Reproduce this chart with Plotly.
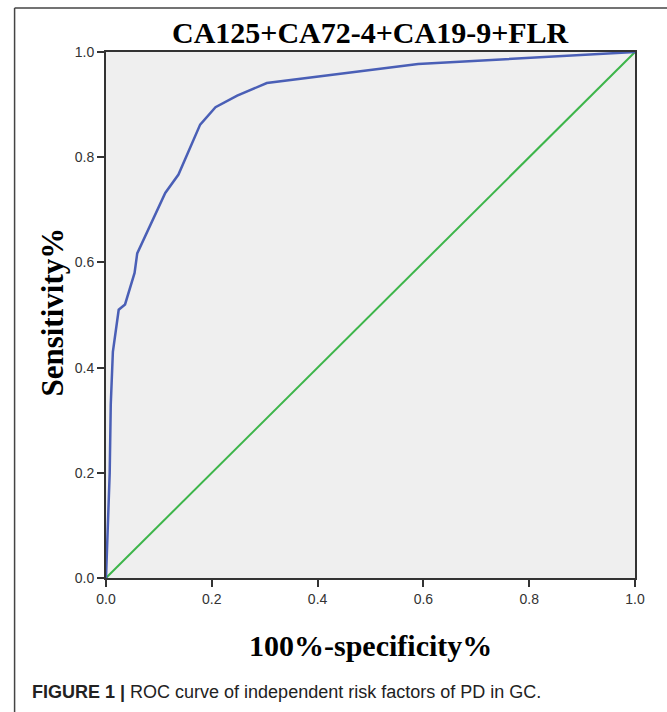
import plotly.graph_objects as go

# ROC data (false positive rate, true positive rate)
fpr = [0.0, 0.004, 0.007, 0.009, 0.013, 0.024, 0.036, 0.054, 0.059, 0.112, 0.137, 0.178, 0.207, 0.248, 0.304, 0.59, 1.0]
tpr = [0.0, 0.10, 0.20, 0.33, 0.43, 0.51, 0.52, 0.58, 0.617, 0.732, 0.767, 0.862, 0.895, 0.917, 0.941, 0.977, 1.0]
ref_x = [0.0, 1.0]
ref_y = [0.0, 1.0]
tick_vals = [0.0, 0.2, 0.4, 0.6, 0.8, 1.0]
tick_text = ["0.0", "0.2", "0.4", "0.6", "0.8", "1.0"]

W, H = 667, 712
L, R, T, B = 105.5, 32, 52, 134
pw = W - L - R
ph = H - T - B

def px(x):
    return (x - L) / pw

def py(y):
    return (H - B - y) / ph

fig = go.Figure()
fig.add_trace(go.Scatter(x=ref_x, y=ref_y, mode="lines",
                         line=dict(color="#3db54a", width=2), showlegend=False, hoverinfo="skip"))
fig.add_trace(go.Scatter(x=fpr, y=tpr, mode="lines",
                         line=dict(color="#4a5fb6", width=2.5), showlegend=False))

axis_common = dict(
    range=[0, 1], tickvals=tick_vals, ticktext=tick_text,
    showgrid=False, zeroline=False, showline=True, linecolor="#333333", linewidth=2,
    ticks="outside", ticklen=7, tickwidth=2, tickcolor="#333333",
    tickfont=dict(family="Liberation Sans, Arial", size=14, color="#333333"),
    mirror=True,
)
fig.update_xaxes(**axis_common)
fig.update_yaxes(**axis_common)

fig.update_layout(
    width=W, height=H,
    margin=dict(l=L, r=R, t=T, b=B),
    paper_bgcolor="white", plot_bgcolor="#efefef",
    showlegend=False,
)

annotations = [
    dict(text="<b>CA125+CA72-4+CA19-9+FLR</b>", x=0.5, y=py(33), xref="paper", yref="paper",
         showarrow=False, xanchor="center", yanchor="middle",
         font=dict(family="Liberation Serif, Times New Roman", size=30, color="black")),
    dict(text="<b>Sensitivity%</b>", x=px(51), y=py(312), xref="paper", yref="paper",
         showarrow=False, xanchor="center", yanchor="middle", textangle=-90,
         font=dict(family="Liberation Serif, Times New Roman", size=31, color="black")),
    dict(text="<b>100%-specificity%</b>", x=0.5, y=py(645), xref="paper", yref="paper",
         showarrow=False, xanchor="center", yanchor="middle",
         font=dict(family="Liberation Serif, Times New Roman", size=30, color="black")),
    dict(text="<b>FIGURE 1 |</b> ROC curve of independent risk factors of PD in GC.",
         x=px(29), y=py(692), xref="paper", yref="paper",
         showarrow=False, xanchor="left", yanchor="middle",
         font=dict(family="Liberation Sans, Arial", size=18, color="#222222")),
]
fig.update_layout(annotations=annotations)

# outer frame of the figure panel
fig.add_shape(type="line", xref="paper", yref="paper", x0=px(14), x1=px(700), y0=py(8), y1=py(8),
              line=dict(color="#444444", width=1.5))
fig.add_shape(type="line", xref="paper", yref="paper", x0=px(14), x1=px(14), y0=py(8), y1=py(740),
              line=dict(color="#444444", width=1.5))

fig.write_html("out.html")
